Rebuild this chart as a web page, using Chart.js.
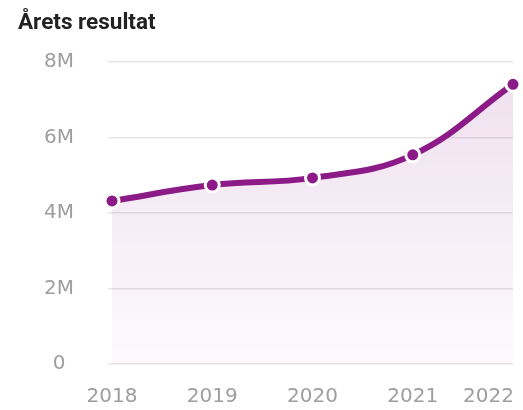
<!DOCTYPE html>
<html>
<head>
<meta charset="utf-8">
<script src="https://cdn.jsdelivr.net/npm/chart.js@4"></script>
<style>
  html, body { margin: 0; padding: 0; background: #fff; }
  #wrap { width: 523px; height: 410px; }
</style>
</head>
<body>
<div id="wrap"><canvas id="line-chart"></canvas></div>
<script>
var years = ["2018", "2019", "2020", "2021", "2022"];
var result = [4320000, 4740000, 4930000, 5540000, 7410000];
var yTicks = [0, 2000000, 4000000, 6000000, 8000000];

var purple = "#8c1a87";
var tickGrey = "#9e9e9e";
var tickFont = { family: "DejaVu Sans", size: 20 };

// last x label is drawn right-aligned so it stays inside the canvas
var lastLabel = {
  id: "lastLabel",
  afterDraw: function(chart) {
    var ctx = chart.ctx;
    ctx.save();
    ctx.font = "20px 'DejaVu Sans'";
    ctx.fillStyle = tickGrey;
    ctx.textAlign = "right";
    ctx.textBaseline = "middle";
    ctx.fillText(years[years.length - 1], chart.chartArea.right + 1, 397);
    ctx.restore();
  }
};

new Chart(document.getElementById("line-chart"), {
  type: 'line',
  data: {
    labels: years,
    datasets: [{
      data: result,
      borderColor: purple,
      borderWidth: 6,
      tension: 0.4,
      pointRadius: 7,
      pointHoverRadius: 7,
      pointBackgroundColor: purple,
      pointBorderColor: "#fff",
      pointBorderWidth: 3,
      clip: false,
      fill: true,
      backgroundColor: function(c) {
        var area = c.chart.chartArea;
        if (!area) return "rgba(140,26,135,0.08)";
        var g = c.chart.ctx.createLinearGradient(0, area.top, 0, area.bottom);
        g.addColorStop(0, "rgba(140,26,135,0.14)");
        g.addColorStop(1, "rgba(140,26,135,0.02)");
        return g;
      }
    }]
  },
  options: {
    responsive: true,
    maintainAspectRatio: false,
    animation: false,
    layout: { padding: { left: 18, right: 8, top: 10, bottom: 0 } },
    plugins: {
      legend: { display: false },
      tooltip: { enabled: false },
      title: {
        display: true,
        text: 'Årets resultat',
        align: 'start',
        color: "#222",
        font: { family: "Roboto", size: 22.5, weight: "bold" },
        padding: { top: 0, bottom: 25 }
      }
    },
    scales: {
      x: {
        grid: { display: false, drawTicks: false },
        border: { display: false },
        ticks: {
          font: tickFont,
          padding: 21,
          maxRotation: 0,
          autoSkip: false,
          color: function(c) { return c.index === years.length - 1 ? "rgba(0,0,0,0)" : tickGrey; }
        },
        afterFit: function(s) { s.paddingRight = 0; s.height = 46; }
      },
      y: {
        min: 0,
        max: 8000000,
        border: { display: false },
        grid: { color: "#e6e6e6", lineWidth: 1.5, tickLength: 4 },
        afterBuildTicks: function(s) { s.ticks = yTicks.map(function(v) { return { value: v }; }); },
        afterFit: function(s) { s.width = 94; },
        ticks: {
          font: tickFont,
          color: tickGrey,
          padding: 34,
          crossAlign: 'center',
          callback: function(v) { return v === 0 ? "0" : (v / 1000000) + "M"; }
        }
      }
    }
  },
  plugins: [lastLabel]
});
</script>
</body>
</html>
